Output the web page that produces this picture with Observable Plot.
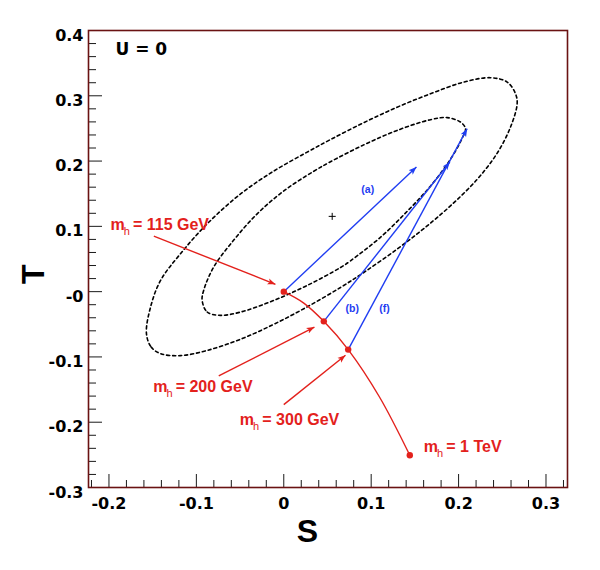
<!DOCTYPE html>
<html>
<head>
<meta charset="utf-8">
<script src="https://cdn.jsdelivr.net/npm/d3@7"></script>
<script src="https://cdn.jsdelivr.net/npm/@observablehq/plot@0.6"></script>
<style>
  html, body { margin: 0; padding: 0; background: #ffffff; }
  #chart { width: 600px; height: 570px; }
</style>
</head>
<body>
<div id="chart"></div>
<script>
// ---------------- data ----------------
const xTickValues = [-0.2, -0.1, 0, 0.1, 0.2, 0.3];
const xTickLabels = ["-0.2", "-0.1", "0", "0.1", "0.2", "0.3"];
const xMinorTicks = [-0.22, -0.18, -0.16, -0.14, -0.12, -0.08, -0.06, -0.04, -0.02,
                     0.02, 0.04, 0.06, 0.08, 0.12, 0.14, 0.16, 0.18, 0.22, 0.24, 0.26, 0.28, 0.32];
const yTickValues = [0.4, 0.3, 0.2, 0.1, 0, -0.1, -0.2, -0.3];
const yTickLabels = ["0.4", "0.3", "0.2", "0.1", "-0", "-0.1", "-0.2", "-0.3"];
const yMinorTicks = [0.38, 0.36, 0.34, 0.32, 0.28, 0.26, 0.24, 0.22, 0.18, 0.16, 0.14, 0.12,
                     0.08, 0.06, 0.04, 0.02, -0.02, -0.04, -0.06, -0.08, -0.12, -0.14, -0.16, -0.18,
                     -0.22, -0.24, -0.26, -0.28];

// outer (dotted) contour
const outerS = [-0.1571, -0.1517, -0.1411, -0.1182, -0.0876, -0.0495, -0.0114, 0.0268, 0.0649, 0.0915,
                0.1297, 0.1602, 0.1907, 0.2213, 0.2442, 0.2594, 0.2670, 0.2651, 0.2556, 0.2365,
                0.2059, 0.1678, 0.1297, 0.0915, 0.0534, 0.0268, -0.0114, -0.0495, -0.0876, -0.1182,
                -0.1411, -0.1525];
const outerT = [-0.0643, -0.0848, -0.0949, -0.0980, -0.0900, -0.0729, -0.0500, -0.0233, 0.0064, 0.0293,
                0.0652, 0.0966, 0.1314, 0.1721, 0.2122, 0.2521, 0.2879, 0.3032, 0.3210, 0.3277,
                0.3210, 0.3031, 0.2825, 0.2588, 0.2329, 0.2137, 0.1847, 0.1496, 0.1039, 0.0580,
                0.0168, -0.0242];
// inner (dotted) contour
const innerS = [-0.0934, -0.0876, -0.0724, -0.0495, -0.0114, 0.0268, 0.0649, 0.0763, 0.1106, 0.1412,
                0.1678, 0.1907, 0.2041, 0.2079, 0.2022, 0.1870, 0.1678, 0.1297, 0.0915, 0.0534,
                0.0343, 0.0000, -0.0304, -0.0572, -0.0801, -0.0915];
const innerT = [-0.0133, -0.0312, -0.0363, -0.0313, -0.0134, 0.0095, 0.0369, 0.0472, 0.0832, 0.1230,
                0.1616, 0.2028, 0.2350, 0.2496, 0.2597, 0.2665, 0.2634, 0.2470, 0.2248, 0.1989,
                0.1844, 0.1542, 0.1192, 0.0790, 0.0378, 0.0025];
// best-fit centre
const centerS = [0.0554];
const centerT = [0.1153];

// SM Higgs curve
const curveS = [0, 0.0229, 0.0458, 0.0737, 0.1095, 0.1442];
const curveT = [0, -0.0175, -0.0455, -0.0888, -0.1614, -0.2507];
const higgsMass = ["115 GeV", "200 GeV", "300 GeV", "1 TeV"];
const higgsS = [0, 0.0458, 0.0737, 0.1442];
const higgsT = [0, -0.0455, -0.0888, -0.2507];
// label anchors for the Higgs-mass annotations
const massLabelS = [-0.1983, -0.1494, -0.0503, 0.1602];
const massLabelT = [0.0939, -0.1537, -0.2047, -0.2456];
// annotation arrows (first three labels)
const massArrowFromS = [-0.1487, -0.0744, 0.0000];
const massArrowFromT = [0.0851, -0.1292, -0.1730];
const massArrowToS = [-0.0095, 0.0351, 0.0706];
const massArrowToT = [0.0112, -0.0542, -0.0975];

// blue shifts
const shiftLabels = ["(a)", "(b)", "(f)"];
const shiftFromS = [0, 0.0458, 0.0737];
const shiftFromT = [0, -0.0455, -0.0888];
const shiftToS = [0.1518, 0.1900, 0.2098];
const shiftToT = [0.1908, 0.1985, 0.2496];
const shiftLabelS = [0.0961, 0.0783, 0.1152];
const shiftLabelT = [0.1562, -0.0260, -0.0260];

const panelLabel = ["U = 0"];
const panelLabelS = [-0.1926];
const panelLabelT = [0.3619];

// ---------------- build tables ----------------
const outer = outerS.map((s, i) => ({S: s, T: outerT[i]}));
const inner = innerS.map((s, i) => ({S: s, T: innerT[i]}));
const center = centerS.map((s, i) => ({S: s, T: centerT[i]}));
const curve = curveS.map((s, i) => ({S: s, T: curveT[i]}));
const higgs = higgsMass.map((m, i) => ({mass: m, S: higgsS[i], T: higgsT[i], lS: massLabelS[i], lT: massLabelT[i]}));
const massArrows = massArrowFromS.map((s, i) => ({x1: s, y1: massArrowFromT[i], x2: massArrowToS[i], y2: massArrowToT[i]}));
const shifts = shiftLabels.map((l, i) => ({label: l, x1: shiftFromS[i], y1: shiftFromT[i], x2: shiftToS[i], y2: shiftToT[i], lS: shiftLabelS[i], lT: shiftLabelT[i]}));
const panel = panelLabel.map((l, i) => ({label: l, S: panelLabelS[i], T: panelLabelT[i]}));
const xTicks = xTickValues.map((v, i) => ({v, label: xTickLabels[i]}));
const yTicks = yTickValues.map((v, i) => ({v, label: yTickLabels[i]}));

// ---------------- style ----------------
const W = 600, H = 570, mL = 88, mR = 33, mT = 30, mB = 83;
const innerW = W - mL - mR, innerH = H - mT - mB;
const xDomain = [-0.2234, 0.3246], yDomain = [-0.3, 0.4];
const RED = "#e3211c", BLUE = "#1f3df2", FRAME = "#6a1212", TICK = "#1a1a1a";
const TICKFONT = "DejaVu Sans", FONT = "Liberation Sans, Arial, Helvetica, sans-serif";

function filledHead(color) {
  const ns = "http://www.w3.org/2000/svg";
  const m = document.createElementNS(ns, "marker");
  m.setAttribute("viewBox", "-10 -5 10 10");
  m.setAttribute("markerWidth", "8");
  m.setAttribute("markerHeight", "8");
  m.setAttribute("markerUnits", "userSpaceOnUse");
  m.setAttribute("refX", "0");
  m.setAttribute("refY", "0");
  m.setAttribute("orient", "auto");
  const p = document.createElementNS(ns, "path");
  p.setAttribute("d", "M-10,-3.8L0,0L-10,3.8L-7.5,0Z");
  p.setAttribute("fill", color);
  p.setAttribute("stroke", "none");
  m.appendChild(p);
  return m;
}

function arrowMarks(data, color, useMarker) {
  if (useMarker) {
    return Plot.link(data, {x1: "x1", y1: "y1", x2: "x2", y2: "y2", stroke: color, strokeWidth: 1.4,
      markerEnd: (c) => filledHead(color)});
  }
  return Plot.arrow(data, {x1: "x1", y1: "y1", x2: "x2", y2: "y2", stroke: color, strokeWidth: 1.4,
    headLength: 8, headAngle: 40});
}

function build(useMarker) {
  return Plot.plot({
    width: W, height: H,
    marginLeft: mL, marginRight: mR, marginTop: mT, marginBottom: mB,
    x: {domain: xDomain, axis: null},
    y: {domain: yDomain, axis: null},
    style: {background: "#ffffff", overflow: "visible"},
    marks: [
      // contours
      Plot.line(outer, {x: "S", y: "T", curve: "catmull-rom-closed", stroke: "#000", strokeWidth: 1.6, strokeDasharray: "3,3"}),
      Plot.line(inner, {x: "S", y: "T", curve: "catmull-rom-closed", stroke: "#000", strokeWidth: 1.6, strokeDasharray: "3,3"}),
      Plot.dot(center, {x: "S", y: "T", symbol: "plus", r: 2.4, stroke: "#000", strokeWidth: 1}),
      // blue shifts
      arrowMarks(shifts, BLUE, useMarker),
      Plot.text(shifts, {x: "lS", y: "lT", text: "label", fill: BLUE, fontSize: 10.5, fontWeight: "bold", fontFamily: FONT, textAnchor: "middle", lineAnchor: "middle"}),
      // SM Higgs curve
      Plot.line(curve, {x: "S", y: "T", stroke: RED, strokeWidth: 1.4, curve: "catmull-rom"}),
      Plot.dot(higgs, {x: "S", y: "T", r: 3.2, fill: RED}),
      // annotation arrows and labels
      arrowMarks(massArrows, RED, useMarker),
      Plot.text(higgs, {x: "lS", y: "lT", text: () => "m", fill: RED, fontSize: 16, fontWeight: "bold", fontFamily: FONT, textAnchor: "start", lineAnchor: "bottom"}),
      Plot.text(higgs, {x: "lS", y: "lT", text: () => "h", dx: 13.3, dy: 5, fill: RED, fontSize: 11, fontWeight: "normal", fontFamily: FONT, textAnchor: "start", lineAnchor: "bottom"}),
      Plot.text(higgs, {x: "lS", y: "lT", text: (d) => "= " + d.mass, dx: 22.5, fill: RED, fontSize: 16, fontWeight: "bold", fontFamily: FONT, textAnchor: "start", lineAnchor: "bottom"}),
      // panel label
      Plot.text(panel, {x: "S", y: "T", text: "label", fill: "#000", fontSize: 17, fontWeight: "bold", fontFamily: TICKFONT, textAnchor: "start", lineAnchor: "bottom"}),
      // inward ticks
      Plot.ruleX(xTickValues, {x: (d) => d, stroke: TICK, strokeWidth: 1, insetTop: innerH - 13}),
      Plot.ruleX(xMinorTicks, {x: (d) => d, stroke: TICK, strokeWidth: 1, insetTop: innerH - 7}),
      Plot.ruleY(yTickValues, {y: (d) => d, stroke: TICK, strokeWidth: 1, insetRight: innerW - 14}),
      Plot.ruleY(yMinorTicks, {y: (d) => d, stroke: TICK, strokeWidth: 1, insetRight: innerW - 8}),
      Plot.frame({stroke: FRAME, strokeWidth: 1.6}),
      // tick labels
      Plot.text(xTicks, {x: "v", y: () => yDomain[0], text: "label", dy: 21.3, fill: "#000", fontSize: 16, fontWeight: "bold", fontFamily: TICKFONT, textAnchor: "middle", lineAnchor: "bottom"}),
      Plot.text(yTicks, {x: () => xDomain[0], y: "v", text: "label", dx: -5, dy: 10, fill: "#000", fontSize: 16, fontWeight: "bold", fontFamily: TICKFONT, textAnchor: "end", lineAnchor: "bottom"}),
      // axis titles
      Plot.text(["S"], {x: () => 0.0271, y: () => yDomain[0], text: (d) => d, dy: 54, fill: "#000", fontSize: 32, fontWeight: "bold", fontFamily: FONT, textAnchor: "middle", lineAnchor: "bottom"}),
      Plot.text(["T"], {x: () => xDomain[0], y: () => 0.0265, text: (d) => d, dx: -45, rotate: -90, fill: "#000", fontSize: 32, fontWeight: "bold", fontFamily: FONT, textAnchor: "middle", lineAnchor: "bottom"})
    ]
  });
}

let chart;
try {
  chart = build(true);
} catch (e) {
  chart = build(false);
}
document.getElementById("chart").appendChild(chart);
</script>
</body>
</html>
